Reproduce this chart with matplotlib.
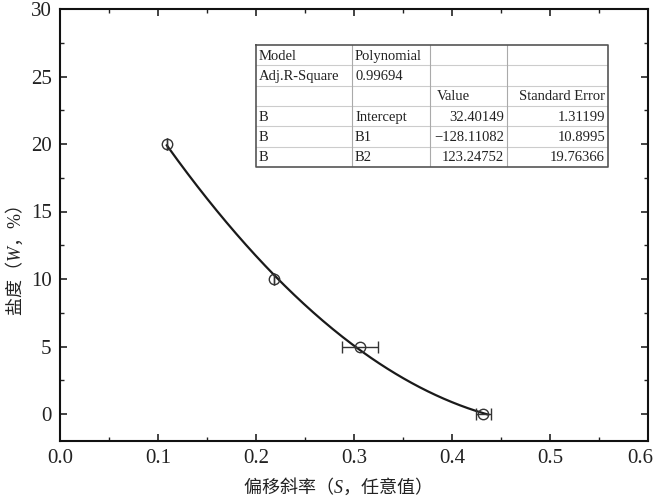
import numpy as np
import matplotlib
matplotlib.use("Agg")
import matplotlib.pyplot as plt
import matplotlib.transforms as mtransforms

plt.rcParams['font.family'] = ['Liberation Serif', 'Noto Sans CJK SC']
plt.rcParams['mathtext.fontset'] = 'custom'
plt.rcParams['mathtext.it'] = 'Liberation Serif:italic'
plt.rcParams['mathtext.rm'] = 'Liberation Serif'

# data
slope = [0.109, 0.218, 0.306, 0.432]
salinity = [20, 10, 5, 0]
slope_err = [0.0, 0.0, 0.018, 0.008]

# fit parameters (from the table)
b0, b1, b2 = 32.40149, -128.11082, 123.24752
fit_range = [0.109, 0.436]

xticks = [0.0, 0.1, 0.2, 0.3, 0.4, 0.5, 0.6]
yticks = [0, 5, 10, 15, 20, 25, 30]

table_rows = [
    ["Model", "Polynomial", "", ""],
    ["Adj.R-Square", "0.99694", "", ""],
    ["", "", "Value", "Standard Error"],
    ["B", "Intercept", "32.40149", "1.31199"],
    ["B", "B1", "\u2212128.11082", "10.8995"],
    ["B", "B2", "123.24752", "19.76366"],
]

fig = plt.figure(figsize=(6.54, 5.01), dpi=100)
W, H = 654, 501
ax = fig.add_axes([60 / W, 1 - 441 / H, (648 - 60) / W, (441 - 9) / H])

xs = np.linspace(fit_range[0], fit_range[1], 200)
ax.plot(xs, b0 + b1 * xs + b2 * xs ** 2, color='#1a1a1a', lw=1.6, zorder=2)
ax.errorbar(slope, salinity, xerr=slope_err, fmt='o', mfc='none', mec='#333333',
            ms=7.5, mew=1.0, ecolor='#333333', elinewidth=1.0, capsize=4, zorder=3)

ax.set_xlim(0, 0.6)
ax.set_ylim(-2, 30)
ax.set_xticks(xticks)
ax.set_xticklabels([f"{v:.1f}" for v in xticks])
ax.set_yticks(yticks)
ax.set_xticks(np.arange(0.05, 0.6, 0.1), minor=True)
ax.set_yticks(np.arange(2.5, 30, 5), minor=True)
ax.tick_params(which='both', direction='in', top=True, right=True, labelsize=15,
               colors='#222222')
ax.tick_params(which='major', length=5, width=1.2, pad=6)
ax.tick_params(which='minor', length=3, width=1.0)
for s in ax.spines.values():
    s.set_linewidth(1.5)
    s.set_color('#111111')

# shift the last x tick label slightly left so it stays inside
last = ax.get_xticklabels()[-1]
last.set_transform(last.get_transform() + mtransforms.ScaledTranslation(-8 / 100, 0, fig.dpi_scale_trans))

ax.set_xlabel(r"偏移斜率（$S$，任意值）", fontsize=13, color='#222222',
              family='Noto Sans CJK SC')
ax.set_ylabel(r"盐度（$W$，$\mathrm{\%}$）", fontsize=13, color='#222222',
              family='Noto Sans CJK SC')
ax.xaxis.set_label_coords(0.464, -0.106)
ax.yaxis.set_label_coords(-0.077, 0.417)
ax.xaxis.label.set_va('center')
ax.yaxis.label.set_va('center')

# table
tab = fig.add_axes([256 / W, 1 - 167 / H, (608 - 256) / W, (167 - 45) / H])
tab.set_xlim(0, 352)
tab.set_ylim(122, 0)
tab.axis('off')
cols = [0, 96, 174, 251, 352]
nrows = len(table_rows)
rh = 122 / nrows
for i in range(1, nrows):
    tab.plot([0, 352], [i * rh, i * rh], color='#cccccc', lw=0.8)
for c in cols[1:-1]:
    tab.plot([c, c], [0, 122], color='#aaaaaa', lw=0.8)
tab.plot([0, 352, 352, 0, 0], [0, 0, 122, 122, 0], color='#555555', lw=1.2, clip_on=False)
for i, row in enumerate(table_rows):
    y = (i + 0.55) * rh
    for j, txt in enumerate(row):
        if not txt:
            continue
        if j < 2 or (i == 2 and j == 2):
            xoff = 7 if (i == 2 and j == 2) else 3
            tab.text(cols[j] + xoff, y, txt, ha='left', va='center',
                     fontsize=10.5, color='#222222')
        else:
            tab.text(cols[j + 1] - 3, y, txt, ha='right', va='center',
                     fontsize=10.5, color='#222222')

fig.savefig("out.png", dpi=100)
